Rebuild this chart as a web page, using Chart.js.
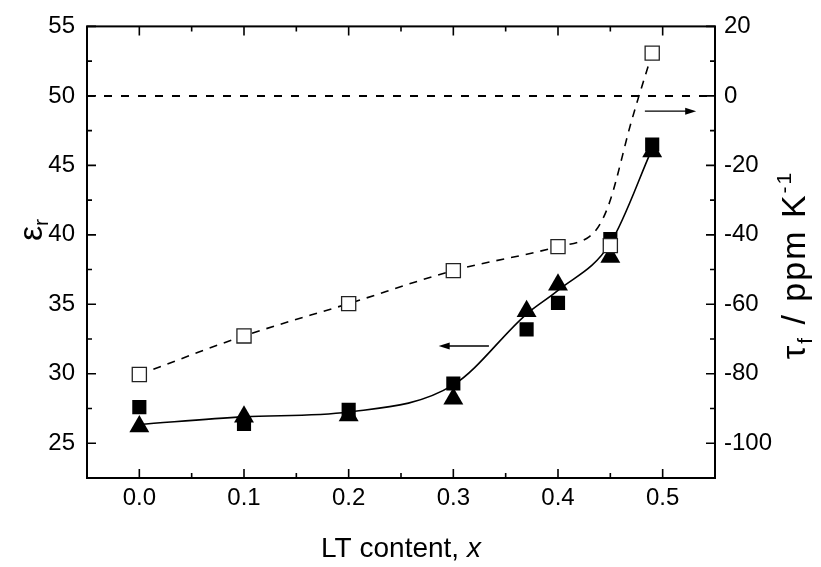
<!DOCTYPE html>
<html>
<head>
<meta charset="utf-8">
<script src="https://cdn.jsdelivr.net/npm/chart.js@4.4.0/dist/chart.umd.min.js"></script>
<style>
  html, body { margin: 0; padding: 0; background: #fff; }
</style>
</head>
<body>
<canvas id="myChart" width="821" height="567"></canvas>
<script>
'use strict';
// measured points (LT content x)
let xSquares = [0.0, 0.1, 0.2, 0.3, 0.37, 0.4, 0.45, 0.49];
let epsSquares = [27.6, 26.4, 27.4, 29.3, 33.2, 35.1, 39.7, 46.5];
let xTriangles = [0.0, 0.1, 0.2, 0.3, 0.37, 0.4, 0.45, 0.49];
let epsTriangles = [26.2, 26.9, 27.0, 28.2, 34.5, 36.4, 38.4, 46.0];
let xTau = [0.0, 0.1, 0.2, 0.3, 0.4, 0.45, 0.49];
let tauValues = [-80.2, -69.1, -59.8, -50.3, -43.4, -43.1, 12.3];

// fitted curves
let xEpsFit = [0.0, 0.1, 0.2, 0.3, 0.37, 0.4, 0.45, 0.49];
let epsFit = [26.35, 26.9, 27.25, 29.2, 34.3, 36.0, 39.4, 46.2];
let xTauFit = [0.0, 0.1, 0.2, 0.3, 0.4, 0.43, 0.44, 0.45, 0.47, 0.49];
let tauFit = [-80.2, -69.1, -59.8, -50.3, -43.4, -40.5, -37, -30, -7.5, 12.3];

// tau = 0 reference line
let xZero = [-0.05, 0.55];
let tauZero = [0, 0];

// arrows: [x start, x end, y]
let arrowEps = [0.334, 0.286, 32.0];
let arrowTau = [0.483, 0.532, -4.4];

let xTicks = [0.0, 0.1, 0.2, 0.3, 0.4, 0.5];
let epsTicks = [25, 30, 35, 40, 45, 50, 55];
let tauTicks = [-100, -80, -60, -40, -20, 0, 20];

let fontFam = "'Liberation Sans', Arial, sans-serif";

function pts(xs, ys) {
    let out = [];
    for (let i = 0; i < xs.length; i++) {
        out.push({ x: xs[i], y: ys[i] });
    }
    return out;
}

function drawRotText(ctx, parts, cx, cy, spacing) {
    // parts: [text, size, shift], drawn rotated -90deg and centred on cx,cy
    ctx.save();
    ctx.translate(cx, cy);
    ctx.rotate(-Math.PI / 2);
    ctx.letterSpacing = spacing + 'px';
    let total = 0;
    parts.forEach(p => {
        ctx.font = p[1] + 'px ' + fontFam;
        total += ctx.measureText(p[0]).width;
    });
    let x = -total / 2;
    ctx.fillStyle = '#000';
    ctx.textBaseline = 'alphabetic';
    parts.forEach(p => {
        ctx.font = p[1] + 'px ' + fontFam;
        ctx.fillText(p[0], x, p[2]);
        x += ctx.measureText(p[0]).width;
    });
    ctx.restore();
}

function arrow(ctx, x0, x1, y) {
    let dir = x1 > x0 ? 1 : -1;
    ctx.beginPath();
    ctx.moveTo(x0, y);
    ctx.lineTo(x1 - dir * 6, y);
    ctx.stroke();
    ctx.beginPath();
    ctx.moveTo(x1, y);
    ctx.lineTo(x1 - dir * 11, y - 3.5);
    ctx.lineTo(x1 - dir * 11, y + 3.5);
    ctx.closePath();
    ctx.fill();
}

let frameTicks = {
    id: 'frameTicks',
    afterDraw(chart) {
        let ctx = chart.ctx;
        let a = chart.chartArea;
        let sx = chart.scales.x;
        let sy = chart.scales.y;
        let sr = chart.scales.y2;
        ctx.save();
        ctx.strokeStyle = '#000';
        ctx.fillStyle = '#000';
        ctx.lineWidth = 1.6;
        ctx.beginPath();
        for (let i = 0; i < xTicks.length; i++) {
            let p = sx.getPixelForValue(xTicks[i]);
            ctx.moveTo(p, a.bottom); ctx.lineTo(p, a.bottom - 9);
            ctx.moveTo(p, a.top); ctx.lineTo(p, a.top + 9);
            let m = sx.getPixelForValue(xTicks[i] + 0.05);
            if (m < a.right - 2) {
                ctx.moveTo(m, a.bottom); ctx.lineTo(m, a.bottom - 5);
                ctx.moveTo(m, a.top); ctx.lineTo(m, a.top + 5);
            }
        }
        for (let i = 0; i < epsTicks.length; i++) {
            let p = sy.getPixelForValue(epsTicks[i]);
            ctx.moveTo(a.left, p); ctx.lineTo(a.left + 9, p);
            let m = sy.getPixelForValue(epsTicks[i] - 2.5);
            if (m < a.bottom - 2) {
                ctx.moveTo(a.left, m); ctx.lineTo(a.left + 5, m);
            }
        }
        for (let i = 0; i < tauTicks.length; i++) {
            let p = sr.getPixelForValue(tauTicks[i]);
            ctx.moveTo(a.right, p); ctx.lineTo(a.right - 9, p);
            let m = sr.getPixelForValue(tauTicks[i] - 10);
            if (m < a.bottom - 2) {
                ctx.moveTo(a.right, m); ctx.lineTo(a.right - 5, m);
            }
        }
        ctx.stroke();
        ctx.lineWidth = 2;
        ctx.strokeRect(a.left, a.top, a.right - a.left, a.bottom - a.top);

        ctx.lineWidth = 1.3;
        arrow(ctx, sx.getPixelForValue(arrowEps[0]), sx.getPixelForValue(arrowEps[1]), sy.getPixelForValue(arrowEps[2]));
        arrow(ctx, sx.getPixelForValue(arrowTau[0]), sx.getPixelForValue(arrowTau[1]), sr.getPixelForValue(arrowTau[2]));

        // axis titles with sub/superscripts
        drawRotText(ctx, [['\u03b5', 34, 0], ['r', 21, 6]], 42, 230, 0);
        drawRotText(ctx, [['\u03c4', 34, 0], ['f', 21, 7], [' / ppm K', 34, 0], ['-1', 21, -14]], 805, 265, 2);

        let title = 'LT content, ';
        ctx.font = '28px ' + fontFam;
        let w1 = ctx.measureText(title).width;
        ctx.font = 'italic 28px ' + fontFam;
        let w2 = ctx.measureText('x').width;
        let x0 = (a.left + a.right) / 2 - (w1 + w2) / 2;
        ctx.textAlign = 'left';
        ctx.textBaseline = 'alphabetic';
        ctx.font = '28px ' + fontFam;
        ctx.fillText(title, x0, 557);
        ctx.font = 'italic 28px ' + fontFam;
        ctx.fillText('x', x0 + w1, 557);
        ctx.restore();
    }
};

let tickFont = { family: fontFam, size: 24 };

let ctx = document.getElementById('myChart').getContext('2d');
let myChart = new Chart(ctx, {
    type: 'scatter',
    data: {
        datasets: [{
            label: 'tau',
            data: pts(xTau, tauValues),
            yAxisID: 'y2',
            pointStyle: 'rect',
            pointRadius: 10,
            backgroundColor: '#fff',
            borderColor: '#222',
            borderWidth: 1.3,
            order: 0
        }, {
            label: 'eps squares',
            data: pts(xSquares, epsSquares),
            yAxisID: 'y',
            pointStyle: 'rect',
            pointRadius: 10,
            backgroundColor: '#000',
            borderColor: '#000',
            borderWidth: 0,
            order: 1
        }, {
            label: 'eps triangles',
            data: pts(xTriangles, epsTriangles),
            yAxisID: 'y',
            pointStyle: 'triangle',
            pointRadius: 11.5,
            backgroundColor: '#000',
            borderColor: '#000',
            borderWidth: 0,
            order: 2
        }, {
            label: 'eps fit',
            data: pts(xEpsFit, epsFit),
            yAxisID: 'y',
            showLine: true,
            pointRadius: 0,
            borderColor: '#000',
            borderWidth: 1.6,
            cubicInterpolationMode: 'monotone',
            order: 3
        }, {
            label: 'tau fit',
            data: pts(xTauFit, tauFit),
            yAxisID: 'y2',
            showLine: true,
            pointRadius: 0,
            borderColor: '#000',
            borderWidth: 1.6,
            borderDash: [8, 7],
            cubicInterpolationMode: 'monotone',
            order: 4
        }, {
            label: 'zero',
            data: pts(xZero, tauZero),
            yAxisID: 'y2',
            showLine: true,
            pointRadius: 0,
            borderColor: '#000',
            borderWidth: 2,
            borderDash: [8, 9],
            order: 5
        }]
    },
    options: {
        responsive: false,
        animation: false,
        layout: { padding: { top: 15, left: 0, right: 0, bottom: 0 } },
        plugins: {
            legend: { display: false },
            tooltip: { enabled: false }
        },
        scales: {
            x: {
                type: 'linear',
                min: -0.05,
                max: 0.55,
                grid: { display: false, drawTicks: false },
                border: { display: false },
                afterBuildTicks: s => { s.ticks = xTicks.map(v => ({ value: v })); },
                afterFit: s => { s.height = 89; },
                ticks: {
                    callback: v => v.toFixed(1),
                    font: tickFont,
                    color: '#000',
                    padding: 6,
                    maxRotation: 0,
                    autoSkip: false
                }
            },
            y: {
                position: 'left',
                min: 22.5,
                max: 55,
                grid: { display: false, drawTicks: false },
                border: { display: false },
                afterBuildTicks: s => { s.ticks = epsTicks.map(v => ({ value: v })); },
                afterFit: s => { s.width = 87; },
                ticks: { font: tickFont, color: '#000', padding: 12 }
            },
            y2: {
                position: 'right',
                min: -110,
                max: 20,
                grid: { display: false, drawTicks: false },
                border: { display: false },
                afterBuildTicks: s => { s.ticks = tauTicks.map(v => ({ value: v })); },
                afterFit: s => { s.width = 106; },
                ticks: { font: tickFont, color: '#000', padding: 9 }
            }
        }
    },
    plugins: [frameTicks]
});
</script>
</body>
</html>
